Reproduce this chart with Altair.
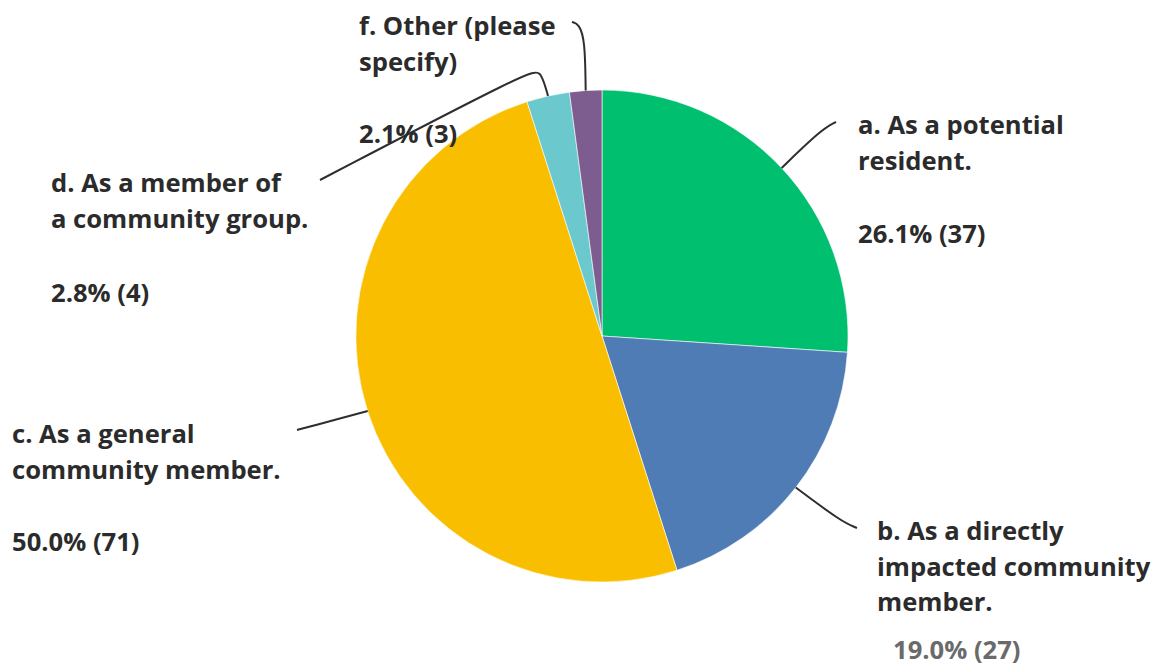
import math
import altair as alt
import pandas as pd

# ---------------- data ----------------
categories = ["a", "b", "c", "d", "f"]
label_lines = [
    ["a. As a potential", "resident."],
    ["b. As a directly", "impacted community", "member."],
    ["c. As a general", "community member."],
    ["d. As a member of", "a community group."],
    ["f. Other (please", "specify)"],
]
counts = [37, 27, 71, 4, 3]
colors = ["#00BF6F", "#507CB6", "#F9BE00", "#6BC8CD", "#7D5D8F"]

# ---------------- layout (reference pixel coordinates) ----------------
W, H, M = 1147, 659, 8
CX, CY, R = 602, 336, 246
FONT = "Open Sans"
FS = 25.6
LINE_H = 35.5
TEXT_COLOR = "#2b2b2b"
# label block: (x, first line y, percentage line x, percentage line y, percentage colour)
label_pos = {
    "a": (858, 126, 858, 235, TEXT_COLOR),
    "b": (877, 532, 893, 651, "#6a6a6a"),
    "c": (12, 435, 12, 543, TEXT_COLOR),
    "d": (51, 184, 51, 294, TEXT_COLOR),
    "f": (359, 27, 359, 135, TEXT_COLOR),
}
# leader line bend / end points after the slice mid-point on the rim
leader_pts = {
    "a": [(822, 129), (836, 122)],
    "b": [(842, 522), (857, 528)],
    "c": [(312, 426), (297, 430)],
    "d": [(541, 71), (531, 70), (320, 180)],
    "f": [(585, 40), (579, 24), (572, 22)],
}

total = sum(counts)
pie_df = pd.DataFrame({
    "cat": categories,
    "count": counts,
    "idx": list(range(len(categories))),
})

# text rows
text_rows = []
for cat, lines, cnt in zip(categories, label_lines, counts):
    lx, ly, px, py, pc = label_pos[cat]
    for i, line in enumerate(lines):
        text_rows.append({"x": lx, "y": ly + i * LINE_H, "t": line, "c": TEXT_COLOR})
    text_rows.append({"x": px, "y": py, "t": f"{cnt / total * 100:.1f}% ({cnt})", "c": pc})
text_df = pd.DataFrame(text_rows)

# leader lines: start at the slice's mid angle on the rim
lead_rows = []
cum = 0
for cat, cnt in zip(categories, counts):
    mid = (cum + cnt / 2) / total * 2 * math.pi
    cum += cnt
    sx = CX + R * math.sin(mid)
    sy = CY - R * math.cos(mid)
    pts = [(sx, sy)] + leader_pts[cat]
    for j, (px_, py_) in enumerate(pts):
        lead_rows.append({"cat": cat, "o": j, "x": px_, "y": py_})
lead_df = pd.DataFrame(lead_rows)

xs = alt.Scale(domain=[M, M + W], nice=False, zero=False)
ys = alt.Scale(domain=[M, M + H], nice=False, zero=False, reverse=True)

pie = alt.Chart(pie_df).mark_arc(radius=R, stroke="white", strokeWidth=0.6).encode(
    theta=alt.Theta("count:Q", stack=True),
    color=alt.Color("cat:N", scale=alt.Scale(domain=categories, range=colors), legend=None),
    order=alt.Order("idx:Q"),
    x=alt.value(CX - M),
    y=alt.value(CY - M),
)

leaders = alt.Chart(lead_df).mark_line(
    color="#2e2e2e", strokeWidth=2, interpolate="basis"
).encode(
    x=alt.X("x:Q", scale=xs, axis=None),
    y=alt.Y("y:Q", scale=ys, axis=None),
    detail="cat:N",
    order="o:Q",
)

texts = alt.Chart(text_df).mark_text(
    align="left", baseline="middle", font=FONT, fontSize=FS, fontWeight="bold"
).encode(
    x=alt.X("x:Q", scale=xs, axis=None),
    y=alt.Y("y:Q", scale=ys, axis=None),
    text="t:N",
    color=alt.Color("c:N", scale=None),
)

chart = alt.layer(pie, leaders, texts).properties(
    width=W, height=H, padding=0, autosize=alt.AutoSizeParams(type="none")
).configure_view(stroke=None).resolve_scale(color="independent")

chart.save("out.html", embed_options={"renderer": "svg", "actions": False})
